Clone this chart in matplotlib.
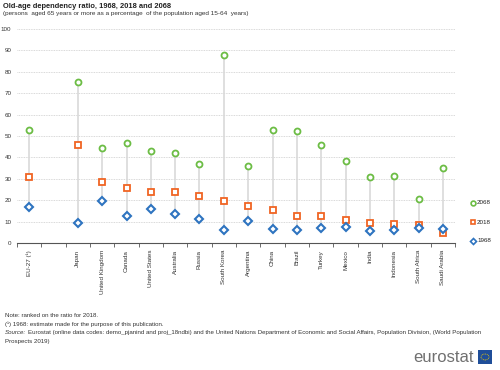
import numpy as np
import matplotlib.pyplot as plt
from matplotlib.patches import Rectangle, Circle

plt.rcParams["font.family"] = ["Liberation Sans", "DejaVu Sans"]

countries = ["EU-27 (¹)", "", "Japan", "United Kingdom", "Canada", "United States",
             "Australia", "Russia", "South Korea", "Argentina", "China", "Brazil",
             "Turkey", "Mexico", "India", "Indonesia", "South Africa", "Saudi Arabia"]
y2068 = [52.8, np.nan, 75.1, 44.5, 46.9, 43.0, 41.9, 36.8, 87.9, 35.8, 52.9, 52.5,
         45.8, 38.2, 31.0, 31.3, 20.6, 35.2]
y2018 = [30.8, np.nan, 45.9, 28.5, 25.7, 24.0, 23.8, 21.8, 19.6, 17.1, 15.3, 12.8,
         12.5, 10.9, 9.2, 8.7, 8.3, 4.5]
y1968 = [17.0, np.nan, 9.3, 19.5, 12.8, 15.9, 13.4, 11.1, 6.1, 10.3, 6.4, 6.1,
         7.0, 7.3, 5.8, 6.1, 6.9, 6.4]

GREEN = "#6cbd45"
ORANGE = "#f06423"
BLUE = "#2e74c0"
TXT = "#333333"

fig = plt.figure(figsize=(5, 3.7), dpi=100)
ax = fig.add_axes([0.034, 0.3432, 0.876, 0.5784])

x = np.arange(len(countries))
lo = np.nanmin([y1968, y2018, y2068], axis=0)
hi = np.nanmax([y1968, y2018, y2068], axis=0)
ax.vlines(x, lo, hi, color="#d9d9d9", lw=1.2, zorder=1)

ax.plot(x, y2068, ls="none", marker="o", ms=4.3, mfc="white", mec=GREEN, mew=1.3, zorder=3)
ax.plot(x, y2018, ls="none", marker="s", ms=4.3, mfc="white", mec=ORANGE, mew=1.3, zorder=3)
ax.plot(x, y1968, ls="none", marker="D", ms=3.8, mfc="white", mec=BLUE, mew=1.5, zorder=3)

ax.set_xlim(-0.5, len(countries) - 0.5)
ax.set_ylim(0, 100)
ax.set_yticks(np.arange(0, 101, 10))
ax.tick_params(axis="y", length=0, labelsize=4.5, colors=TXT, pad=4)
ax.yaxis.grid(True, color="#cccccc", ls=(0, (1, 1)), lw=0.6)
ax.set_axisbelow(True)

ax.set_xticks(x)
ax.set_xticklabels(countries, rotation=90, fontsize=4.5, color=TXT)
ax.tick_params(axis="x", length=0, pad=5)
ax.set_xticks(np.arange(-0.5, len(countries), 1), minor=True)
ax.tick_params(axis="x", which="minor", length=3, color="#555555", width=0.6)

for s in ["top", "right", "left"]:
    ax.spines[s].set_visible(False)
ax.spines["bottom"].set_color("#555555")
ax.spines["bottom"].set_linewidth(0.8)

# legend
leg_items = [(202.7, "2068", "o", GREEN, 4.3), (222, "2018", "s", ORANGE, 4.3),
             (240.7, "1968", "D", BLUE, 3.8)]
for ypix, lab, mk, col, ms in leg_items:
    yf = 1 - ypix / 370
    fig.lines.append(plt.Line2D([473 / 500], [yf], transform=fig.transFigure, marker=mk,
                                ms=ms * 0.8, mfc="white", mec=col, mew=1.2, ls="none"))
    fig.text(477 / 500, yf, lab, fontsize=4.5, va="center", ha="left", color="#222222")

fig.text(3 / 500, 1 - 6 / 370, "Old-age dependency ratio, 1968, 2018 and 2068",
         fontsize=5.4, fontweight="bold", va="center", ha="left", color="#222222")
fig.text(3 / 500, 1 - 14 / 370,
         "(persons  aged 65 years or more as a percentage  of the population aged 15-64  years)",
         fontsize=4.6, va="center", ha="left", color=TXT)

NFS = 4.4
fig.text(5 / 500, 1 - 315.5 / 370, "Note: ranked on the ratio for 2018.",
         fontsize=NFS, va="center", ha="left", color=TXT)
fig.text(5 / 500, 1 - 324 / 370, "(¹) 1968: estimate made for the purpose of this publication.",
         fontsize=NFS, va="center", ha="left", color=TXT)
src = fig.text(5 / 500, 1 - 332.5 / 370, "Source:", fontsize=NFS, style="italic",
               va="center", ha="left", color=TXT)
renderer = fig.canvas.get_renderer()
bb = src.get_window_extent(renderer)
fig.text((bb.x1 + 1.5) / 500, 1 - 332.5 / 370,
         "Eurostat (online data codes: demo_pjanind and proj_18ndbi) and the United Nations "
         "Department of Economic and Social Affairs, Population Division, (World Population",
         fontsize=NFS, va="center", ha="left", color=TXT)
fig.text(5 / 500, 1 - 341 / 370, "Prospects 2019)", fontsize=NFS, va="center", ha="left",
         color=TXT)

fig.text(474 / 500, 1 - 357 / 370, "eurostat", fontsize=12, color="#707070",
         va="center", ha="right")
fig.patches.append(Rectangle((478 / 500, 1 - 364 / 370), 14 / 500, 14 / 370,
                             transform=fig.transFigure, facecolor="#1f4e99", edgecolor="none"))
fig.patches.append(Circle((485 / 500, 1 - 357 / 370), 0.008, transform=fig.transFigure,
                          facecolor="none", edgecolor="#f5d000", lw=0.6, ls=(0, (1, 1))))

fig.savefig("out.png", dpi=100)
